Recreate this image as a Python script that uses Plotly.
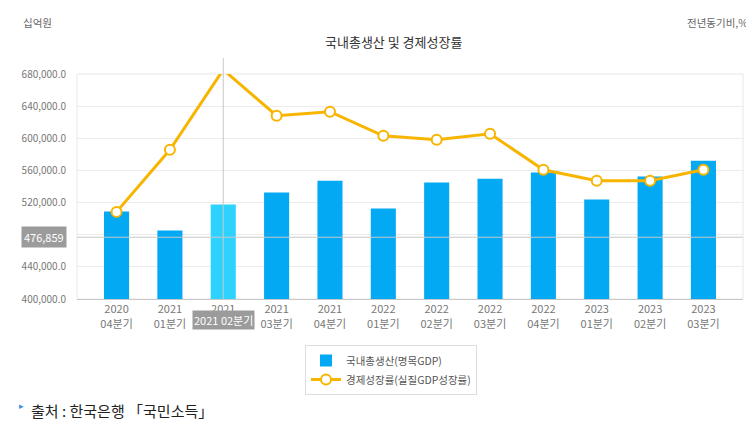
import plotly.graph_objects as go

categories = ["2020<br>04분기", "2021<br>01분기", "2021<br>02분기", "2021<br>03분기",
              "2021<br>04분기", "2022<br>01분기", "2022<br>02분기", "2022<br>03분기",
              "2022<br>04분기", "2023<br>01분기", "2023<br>02분기", "2023<br>03분기"]
gdp_nominal = [508800, 485200, 517500, 532400, 547300, 512500,
               544900, 549800, 557300, 523700, 552300, 572200]
growth_real = [-1.0, 2.1, 6.1, 3.8, 4.0, 2.8, 2.6, 2.9, 1.1, 0.55, 0.55, 1.1]
y_ticks = [400000, 440000, 480000, 520000, 560000, 600000, 640000, 680000]

hover_index = 2
hover_value = 476859
hover_label = "2021 02분기"

FONT = "Noto Sans CJK KR"
BAR = "#04a9f4"
BAR_HI = "#2dd2ff"
LINE = "#f7b500"

# page body has an 8px default margin
OFF = 8
PL, PR, PT, PB = 77, 743, 74, 299  # plot area in page pixels
PW, PH = PR - PL, PB - PT


def px(x):
    return (x - PL) / PW


def py(y):
    return (PB - y) / PH


bar_colors = [BAR_HI if i == hover_index else BAR for i in range(len(categories))]

fig = go.Figure()
fig.add_trace(go.Bar(
    x=categories, y=gdp_nominal, name="국내총생산(명목GDP)",
    marker=dict(color=bar_colors, line=dict(width=0)), width=0.47,
    yaxis="y",
))
fig.add_trace(go.Scatter(
    x=categories, y=growth_real, name="경제성장률(실질GDP성장률)",
    mode="lines+markers", yaxis="y2", cliponaxis=False,
    line=dict(color=LINE, width=3),
    marker=dict(symbol="circle", size=10, color="white", line=dict(color=LINE, width=2)),
))

shapes = [
    dict(type="rect", xref="paper", yref="paper", x0=0, x1=1, y0=0, y1=1,
         line=dict(color="#e8e8e8", width=1), layer="below"),
    dict(type="line", xref="x", yref="paper", x0=categories[hover_index], x1=categories[hover_index],
         y0=0, y1=py(58), line=dict(color="#c8c8c8", width=1)),
    dict(type="line", xref="paper", yref="y", x0=0, x1=1, y0=hover_value, y1=hover_value,
         line=dict(color="#c8c8c8", width=1)),
]

annotations = [
    dict(text="국내총생산 및 경제성장률", xref="paper", yref="paper", x=px(393), y=py(42),
         xanchor="center", yanchor="middle", showarrow=False,
         font=dict(family=FONT, size=13, color="#333333")),
    dict(text="십억원", xref="paper", yref="paper", x=px(21), y=py(22),
         xanchor="left", yanchor="middle", showarrow=False,
         font=dict(family=FONT, size=10.5, color="#666666")),
    dict(text="전년동기비,%", xref="paper", yref="paper", x=px(750), y=py(22),
         xanchor="right", yanchor="middle", showarrow=False,
         font=dict(family=FONT, size=10.5, color="#666666")),
    dict(text=f"{hover_value:,}", xref="paper", yref="y", x=px(67), y=hover_value,
         xanchor="right", yanchor="middle", showarrow=False, bgcolor="#9b9b9b",
         borderpad=2, font=dict(family=FONT, size=11, color="white")),
    dict(text=hover_label, xref="x", yref="paper", x=categories[hover_index], y=py(310),
         xanchor="center", yanchor="top", showarrow=False, bgcolor="#9b9b9b",
         borderpad=1, font=dict(family=FONT, size=11, color="white")),
    dict(text="출처 : 한국은행 「국민소득」", xref="paper", yref="paper",
         x=px(29), y=py(410), xanchor="left", yanchor="middle", showarrow=False,
         font=dict(family=FONT, size=15, color="#222222")),
    dict(text="▸", xref="paper", yref="paper",
         x=px(17), y=py(405), xanchor="left", yanchor="middle", showarrow=False,
         font=dict(family=FONT, size=9, color="#3a8ee6")),
]

fig.update_layout(
    width=754 - OFF, height=429 - OFF,
    margin=dict(l=PL - OFF, r=754 - PR, t=PT - OFF, b=429 - PB, autoexpand=False),
    paper_bgcolor="white", plot_bgcolor="white",
    font=dict(family=FONT, size=11, color="#666666"),
    showlegend=True,
    legend=dict(x=px(305), y=py(345), xanchor="left", yanchor="top",
                orientation="v", bordercolor="#dddddd", borderwidth=1, bgcolor="white",
                font=dict(family=FONT, size=10.5, color="#555555"), itemwidth=30,
                tracegroupgap=0),
    xaxis=dict(type="category", showgrid=False, showline=True, linecolor="#c8c8c8",
               ticks="", tickfont=dict(family=FONT, size=11, color="#777777"),
               automargin=False, fixedrange=True),
    yaxis=dict(range=[400000, 680000], tickvals=y_ticks, tickformat=",.1f",
               showgrid=True, gridcolor="#ececec", zeroline=False, showline=False,
               tickfont=dict(family=FONT, size=10, color="#777777"), ticks="",
               ticklabelstandoff=10, automargin=False),
    yaxis2=dict(overlaying="y", side="right", range=[(192 - 299) / 20, (192 - 74.3) / 20],
                visible=False, showgrid=False, automargin=False),
    shapes=shapes,
    annotations=annotations,
)

fig.write_html("out.html")
